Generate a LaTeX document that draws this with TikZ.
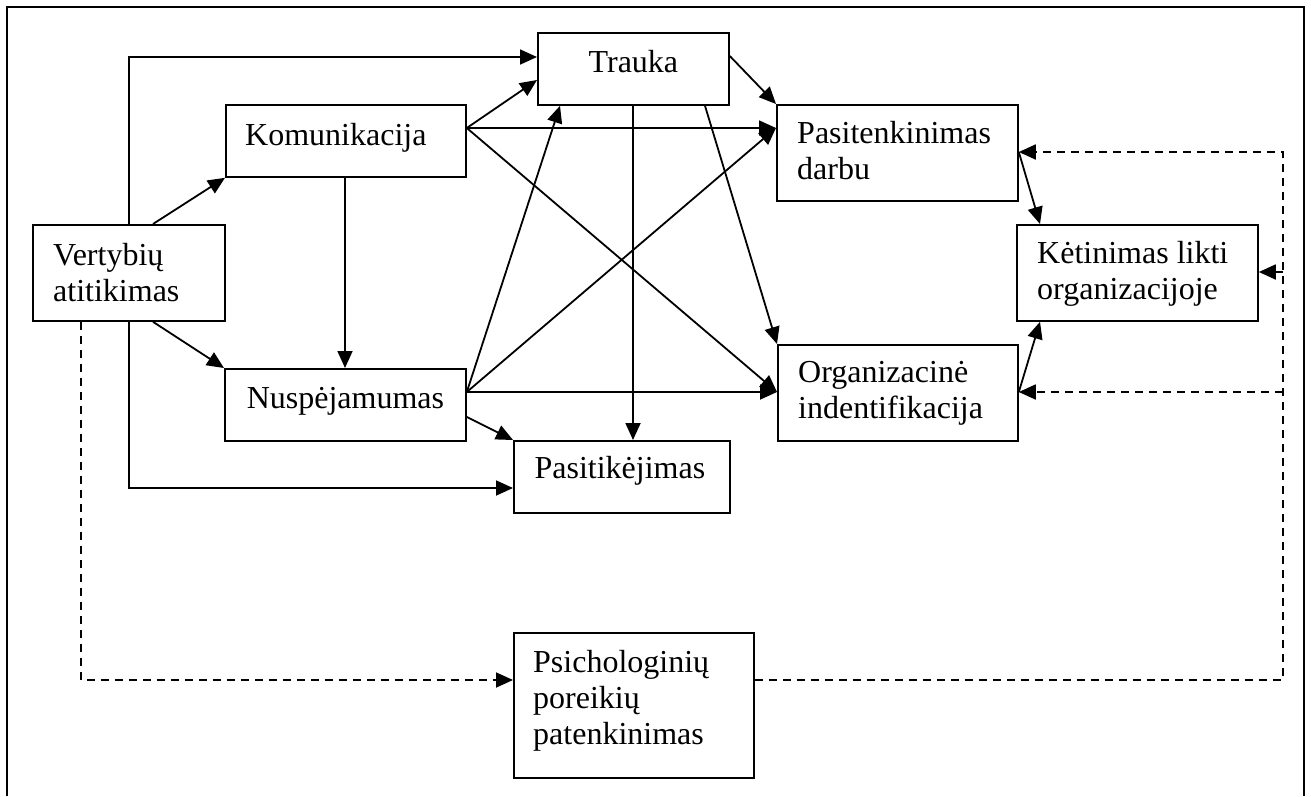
\documentclass[tikz,border=0pt]{standalone}
\usepackage{fontspec}
\setmainfont{Liberation Serif}
\usetikzlibrary{arrows.meta,calc}
\begin{document}
\begin{tikzpicture}[x=1pt,y=-1pt,
  box/.style={draw,line width=1.8pt,rectangle,inner sep=0pt,anchor=north west},
  txt/.style={inner sep=0pt,font=\fontsize{32}{36}\selectfont},
  conn/.style={line width=1.8pt,-{Triangle[length=17pt,width=15pt]}},
  dsh/.style={line width=1.8pt,dash pattern=on 8pt off 6pt,-{Triangle[length=17pt,width=15pt]}},
  frame/.style={line width=2pt}]
\useasboundingbox (0,0) rectangle (1311,796);
\fill[white] (0,0) rectangle (1311,796);
\draw[frame] (7,796) -- (7,7) -- (1304,7) -- (1304,796);
% boxes
\node[box,minimum width=192pt,minimum height=96pt] (vert) at (32,224) {};
\node[box,minimum width=240pt,minimum height=72pt] (komm) at (225,104) {};
\node[box,minimum width=241pt,minimum height=72pt] (nusp) at (224,368) {};
\node[box,minimum width=191pt,minimum height=72pt] (trauka) at (537,32) {};
\node[box,minimum width=216pt,minimum height=72pt] (pasit) at (513,440) {};
\node[box,minimum width=241pt,minimum height=96pt] (pasten) at (776,104) {};
\node[box,minimum width=241pt,minimum height=96pt] (ketin) at (1016,224) {};
\node[box,minimum width=240pt,minimum height=96pt] (org) at (777,344) {};
\node[box,minimum width=240pt,minimum height=145pt] (psich) at (513,632) {};
% texts
\node[txt,anchor=base west] (tvert) at ($(vert.north west)+(21,41)$) {\begin{tabular}[t]{@{}l@{}}Vertybių\\atitikimas\end{tabular}};
\node[txt,anchor=base west] (tkomm) at ($(komm.north west)+(20,41)$) {Komunikacija};
\node[txt,anchor=base] (tnusp) at ($(nusp.north)+(0,40)$) {Nuspėjamumas};
\node[txt,anchor=base] (ttrauka) at ($(trauka.north)+(0,40)$) {Trauka};
\node[txt,anchor=base] (tpasit) at ($(pasit.north)+(-2,38)$) {Pasitikėjimas};
\node[txt,anchor=base west] (tpasten) at ($(pasten.north west)+(21,39)$) {\begin{tabular}[t]{@{}l@{}}Pasitenkinimas\\darbu\end{tabular}};
\node[txt,anchor=base west] (tketin) at ($(ketin.north west)+(21,39)$) {\begin{tabular}[t]{@{}l@{}}Kėtinimas likti\\organizacijoje\end{tabular}};
\node[txt,anchor=base west] (torg) at ($(org.north west)+(21,38)$) {\begin{tabular}[t]{@{}l@{}}Organizacinė\\indentifikacija\end{tabular}};
\node[txt,anchor=base west] (tpsich) at ($(psich.north west)+(20,40)$) {\begin{tabular}[t]{@{}l@{}}Psichologinių\\poreikių\\patenkinimas\end{tabular}};
% connectors from Vertybiu atitikimas
\draw[conn] ($(vert.north west)+(97,0)$) |- ($(trauka.north west)+(0,25)$);
\draw[conn] ($(vert.north west)+(121,0)$) -- (komm.south west);
\draw[conn] ($(vert.south west)+(121,0)$) -- (nusp.north west);
\draw[conn] ($(vert.south west)+(97,0)$) |- ($(pasit.north west)+(0,48)$);
\draw[dsh] ($(vert.south west)+(49,0)$) |- ($(psich.north west)+(0,48)$);
% dashed feedback
\draw[dsh] ($(psich.north east)+(0,48)$) -| ($(pasten.north east)+(264,48)$) -- ($(pasten.north east)+(0,48)$);
\draw[dsh] ($(ketin.north east)+(24,48)$) -- ($(ketin.north east)+(0,48)$);
\draw[dsh] ($(org.north east)+(264,48)$) -- ($(org.north east)+(0,48)$);
% Komunikacija
\draw[conn] ($(komm.north east)+(0,24)$) -- ($(trauka.north west)+(0,48)$);
\draw[conn] ($(komm.north east)+(0,24)$) -- ($(pasten.north west)+(0,24)$);
\draw[conn] ($(komm.north east)+(0,24)$) -- ($(org.north west)+(0,48)$);
\draw[conn] ($(komm.south west)+(120,0)$) -- ($(nusp.north west)+(121,0)$);
% Nuspejamumas
\draw[conn] ($(nusp.north east)+(0,24)$) -- ($(trauka.south west)+(23,0)$);
\draw[conn] ($(nusp.north east)+(0,24)$) -- ($(pasten.north west)+(0,24)$);
\draw[conn] ($(nusp.north east)+(0,24)$) -- ($(org.north west)+(0,48)$);
\draw[conn] ($(nusp.north east)+(0,49)$) -- (pasit.north west);
% Trauka
\draw[conn] ($(trauka.south west)+(96,0)$) -- ($(pasit.north west)+(120,0)$);
\draw[conn] ($(trauka.south west)+(168,0)$) -- (org.north west);
\draw[conn] ($(trauka.north east)+(0,24)$) -- (pasten.north west);
% to Ketinimas
\draw[conn] ($(pasten.north east)+(0,48)$) -- ($(ketin.north west)+(24,0)$);
\draw[conn] ($(org.north east)+(0,48)$) -- ($(ketin.south west)+(24,0)$);
\end{tikzpicture}
\end{document}
